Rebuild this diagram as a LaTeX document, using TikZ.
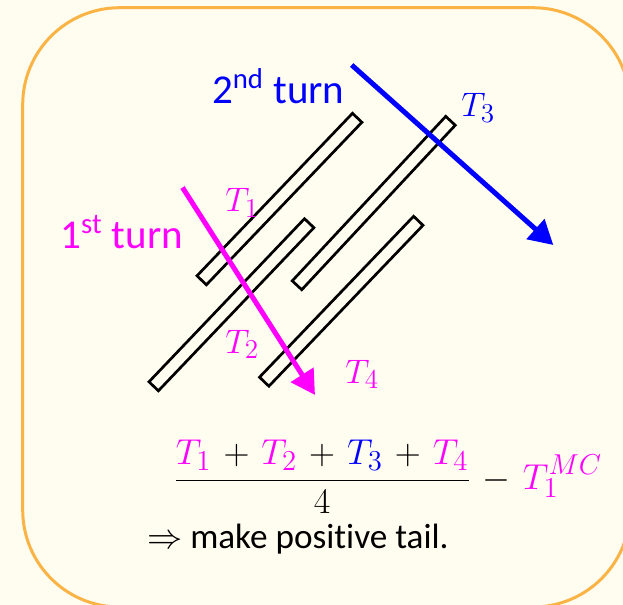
\RequirePackage{fix-cm}
\documentclass[tikz,border=0pt]{standalone}
\usepackage[no-math]{fontspec}
\setmainfont[Ligatures=NoCommon]{Carlito}
\DeclareMathSizes{17}{17}{13.6}{10.5}
\DeclareMathSizes{18}{18}{14.4}{11}
\usetikzlibrary{arrows.meta,calc}
\definecolor{cream}{RGB}{255,253,240}
\definecolor{frameorange}{RGB}{250,180,70}
\definecolor{turnmag}{RGB}{255,0,255}
\definecolor{turnblue}{RGB}{0,0,255}
\tikzset{
  frame/.style={draw=frameorange, line width=1.5pt, rounded corners=48.5pt},
  wire/.style={draw=black, line width=1.35pt, line join=miter},
  turnarrow/.style={-{Triangle[length=12pt,width=13pt]}, line width=2.5pt},
  turntext/.style={font=\fontsize{20.5}{24}\selectfont, anchor=base west, inner sep=0pt},
  templabel/.style={font=\fontsize{17}{20}\selectfont, anchor=base west, inner sep=0pt},
  plaintext/.style={font=\fontsize{17.6}{21}\selectfont, anchor=base west, inner sep=0pt}
}
% one hairpin strip between two end points
\newcommand{\wirestrip}[2]{%
  \draw[wire] ($(#1)!3.25pt!90:(#2)$) -- ($(#2)!3.25pt!-90:(#1)$)
    -- ($(#2)!3.25pt!90:(#1)$) -- ($(#1)!3.25pt!-90:(#2)$) -- cycle;}

\begin{document}
\begin{tikzpicture}[x=0.5pt, y=-0.5pt]
  \fill[cream] (0,0) rectangle (623,605);
  \useasboundingbox (0,0) rectangle (623,605);
  \draw[frame] (22.7,7.7) rectangle (630,607);

  % strips
  \coordinate (a1) at (201.7,280.3);
  \coordinate (a2) at (357.2,117.8);
  \coordinate (b1) at (153.7,386.3);
  \coordinate (b2) at (309.2,223.2);
  \coordinate (c1) at (297,285.3);
  \coordinate (c2) at (450.5,120.8);
  \coordinate (d1) at (264.2,381.7);
  \coordinate (d2) at (418.3,220.8);
  \wirestrip{a1}{a2}
  \wirestrip{b1}{b2}
  \wirestrip{c1}{c2}
  \wirestrip{d1}{d2}

  % labels
  \node[turntext, text=turnblue] (second) at (211.7,103.3) {2\textsuperscript{nd} turn};
  \node[turntext, text=turnmag] (first) at (60,248.3) {1\textsuperscript{st} turn};
  \node[templabel, text=turnmag] (t1) at (225,211.7) {$T_1$};
  \node[templabel, text=turnmag] (t2) at (225,353) {$T_2$};
  \node[templabel, text=turnblue] (t3) at (461,117) {$T_3$};
  \node[templabel, text=turnmag] (t4) at (345,383) {$T_4$};

  % turns
  \coordinate (p1) at (182.5,187.5);
  \coordinate (p2) at (315,395);
  \coordinate (q1) at (351.7,65);
  \coordinate (q2) at (553.3,245);
  \draw[turnarrow, turnmag] (p1) -- (p2);
  \draw[turnarrow, turnblue] (q1) -- (q2);

  % average
  \node[anchor=base west, inner sep=0pt, font=\fontsize{18}{21}\selectfont] (avg) at (173,489)
    {$\medmuskip=6mu\displaystyle\frac{{\color{turnmag}T_1}+{\color{turnmag}T_2}+{\color{turnblue}T_3}+{\color{turnmag}T_4}}{4}-{\color{turnmag}T_1^{MC}}$};
  \node[plaintext] (tail) at (146.7,548.3) {$\Rightarrow$ make positive tail.};
\end{tikzpicture}
\end{document}
